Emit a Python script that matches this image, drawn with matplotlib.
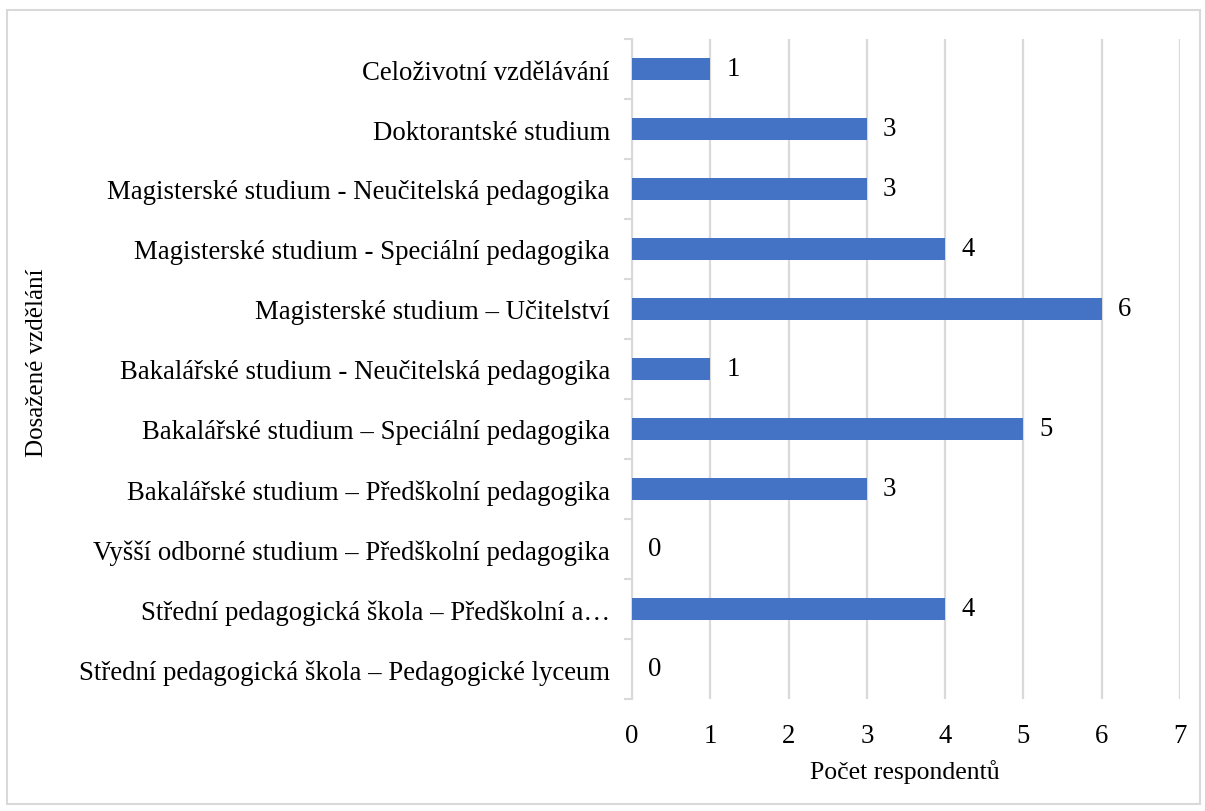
import matplotlib.pyplot as plt
from matplotlib.patches import Rectangle
import numpy as np

categories = [
    "Střední pedagogická škola – Pedagogické lyceum",
    "Střední pedagogická škola – Předškolní a…",
    "Vyšší odborné studium – Předškolní pedagogika",
    "Bakalářské studium – Předškolní pedagogika",
    "Bakalářské studium – Speciální pedagogika",
    "Bakalářské studium - Neučitelská pedagogika",
    "Magisterské studium – Učitelství",
    "Magisterské studium - Speciální pedagogika",
    "Magisterské studium - Neučitelská pedagogika",
    "Doktorantské studium",
    "Celoživotní vzdělávání",
]
counts = [0, 4, 0, 3, 5, 1, 6, 4, 3, 3, 1]
xticks = [0, 1, 2, 3, 4, 5, 6, 7]

plt.rcParams["font.family"] = ["Liberation Serif", "DejaVu Serif"]
plt.rcParams["font.size"] = 19.3

fig = plt.figure(figsize=(12.05, 8.12), dpi=100)
ax = fig.add_axes([632 / 1205, 1 - 700 / 812, 548 / 1205, 660 / 812])

y = np.arange(len(categories))
ax.barh(y, counts, height=0.37, color="#4472C4", zorder=3)

for yi, v in zip(y, counts):
    ax.annotate(str(v), (v, yi), xytext=(16, 0), textcoords="offset pixels",
                va="center", ha="left", fontsize=19.3)

ax.set_xlim(0, 7)
ax.set_ylim(-0.5, len(categories) - 0.5)
ax.set_xticks(xticks)
ax.set_yticks(y)
ax.set_yticklabels(categories)
ax.set_yticks(np.arange(-0.5, len(categories)), minor=True)

ax.tick_params(axis="y", which="major", length=0, pad=16)
ax.tick_params(axis="y", which="minor", length=6, width=1.5, color="#d9d9d9")
ax.tick_params(axis="x", length=0, pad=17)

ax.grid(axis="x", color="#d9d9d9", linewidth=1.6, zorder=0)
for s in ["top", "right", "bottom"]:
    ax.spines[s].set_visible(False)
ax.spines["left"].set_color("#d9d9d9")
ax.spines["left"].set_linewidth(1.5)

fig.text(905 / 1205, 1 - 772 / 812, "Počet respondentů", ha="center", va="center", fontsize=18.5)
fig.text(37 / 1205, 1 - 363 / 812, "Dosažené vzdělání", ha="center", va="center",
         rotation=90, fontsize=18)

fig.patches.append(Rectangle((7 / 1205, 1 - 805 / 812), 1193 / 1205, 794 / 812,
                             transform=fig.transFigure, fill=False,
                             edgecolor="#d9d9d9", linewidth=1.5))

fig.savefig("out.png", dpi=100)
